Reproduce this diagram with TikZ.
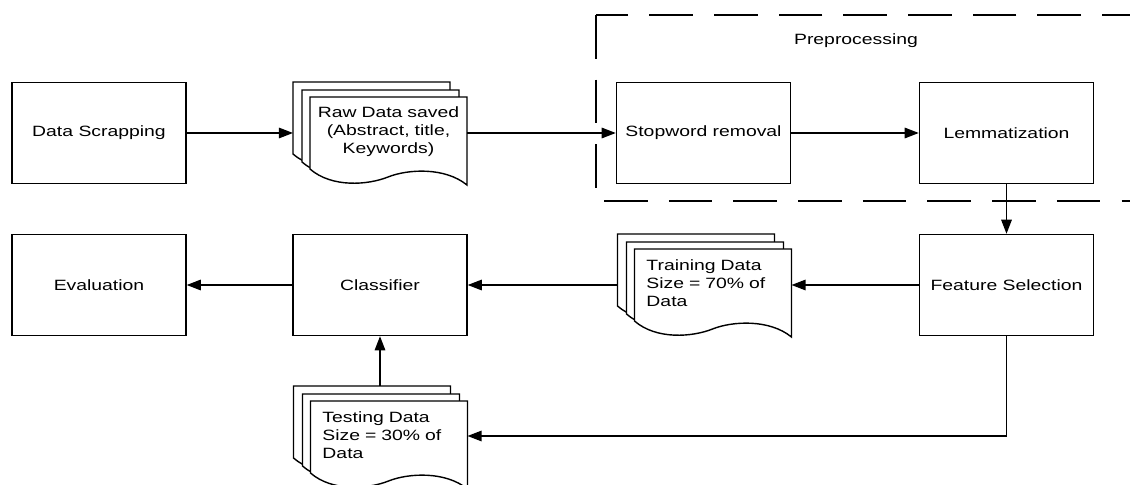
\documentclass[tikz,border=0pt]{standalone}
\usepackage{fontspec}
\setmainfont{Liberation Sans}[FakeStretch=1.3]
\usetikzlibrary{positioning, arrows.meta}

% one wavy document sheet over an empty sheetbox node
\newcommand{\docsheet}[1]{%
  \begin{scope}[shift={(#1.south west)}]
    \draw[sheet] (0,-88) -- (157,-88) -- (157,0)
      .. controls (135,-18) and (98,-16) .. (78,-8)
      .. controls (58,0) and (22,3) .. (0,-16) -- cycle;
  \end{scope}}

\begin{document}
\begin{tikzpicture}[x=0.025cm, y=-0.025cm,
    every node/.style={font=\fontsize{10.6}{12.8}\selectfont},
    % Styles
    block/.style={draw, line width=1pt, minimum width=4.35cm, minimum height=2.525cm, inner sep=0pt, align=center},
    sheetbox/.style={inner sep=0pt, outer sep=0pt, minimum width=3.925cm, minimum height=2.2cm},
    sheet/.style={draw, fill=white, line width=1pt},
    doctext/.style={text width=3.325cm, inner sep=0pt, align=left},
    flow/.style={-{Triangle[length=10pt, width=7.5pt]}, line width=0.9pt},
    group/.style={dash pattern=on 31pt off 15pt, line width=0.9pt},
]

\path[use as bounding box, clip] (0,0) rectangle (1130,485);

% Preprocessing group
\draw[group] (596,15) rectangle (1170,201);
\node (prep) at (856,41) {Preprocessing};

% Top row
\node[block] (scrap) at (99,133) {Data Scrapping};

\node[sheetbox] (raw3) at (371.5,126) {}; \docsheet{raw3}
\node[sheetbox] (raw2) at (380.5,134) {}; \docsheet{raw2}
\node[sheetbox] (raw) at (388.5,141) {}; \docsheet{raw}
\node[doctext, text width=3.75cm, align=center] (raw-text) at ([yshift=0.225cm]raw.center)
    {Raw Data saved\\(Abstract, title,\\Keywords)};

\node[block] (stop) at (703.5,133) {Stopword removal};
\node[block] (lemm) at (1006.5,133) {Lemmatization};

% Second row
\node[block] (feat) at (1006.5,285) {Feature Selection};

\node[sheetbox] (train3) at (696,278) {}; \docsheet{train3}
\node[sheetbox] (train2) at (705,286) {}; \docsheet{train2}
\node[sheetbox] (train) at (713,293) {}; \docsheet{train}
\node[doctext] (train-text) at ([yshift=0.25cm]train.center)
    {Training Data\\Size = 70\% of\\Data};

\node[block] (classifier) at (380,285) {Classifier};
\node[block] (eval) at (99,285) {Evaluation};

% Testing data
\node[sheetbox] (test3) at (372,430) {}; \docsheet{test3}
\node[sheetbox] (test2) at (381,438) {}; \docsheet{test2}
\node[sheetbox] (test) at (389,445) {}; \docsheet{test}
\node[doctext] (test-text) at ([yshift=0.25cm]test.center)
    {Testing Data\\Size = 30\% of\\Data};

% Connectors
\draw[flow] (scrap) -- (scrap -| raw3.west);
\draw[flow] (raw.east |- stop) -- (stop);
\draw[flow] (stop) -- (lemm);
\draw[flow] (lemm) -- (feat);
\draw[flow] (feat) -- (feat -| train.east);
\draw[flow] (train3.west |- classifier) -- (classifier);
\draw[flow] (classifier) -- (eval);
\draw[flow] (feat.south) |- ([yshift=0.225cm]test.east);
\draw[flow] (classifier |- test3.north) -- (classifier);

\end{tikzpicture}
\end{document}
